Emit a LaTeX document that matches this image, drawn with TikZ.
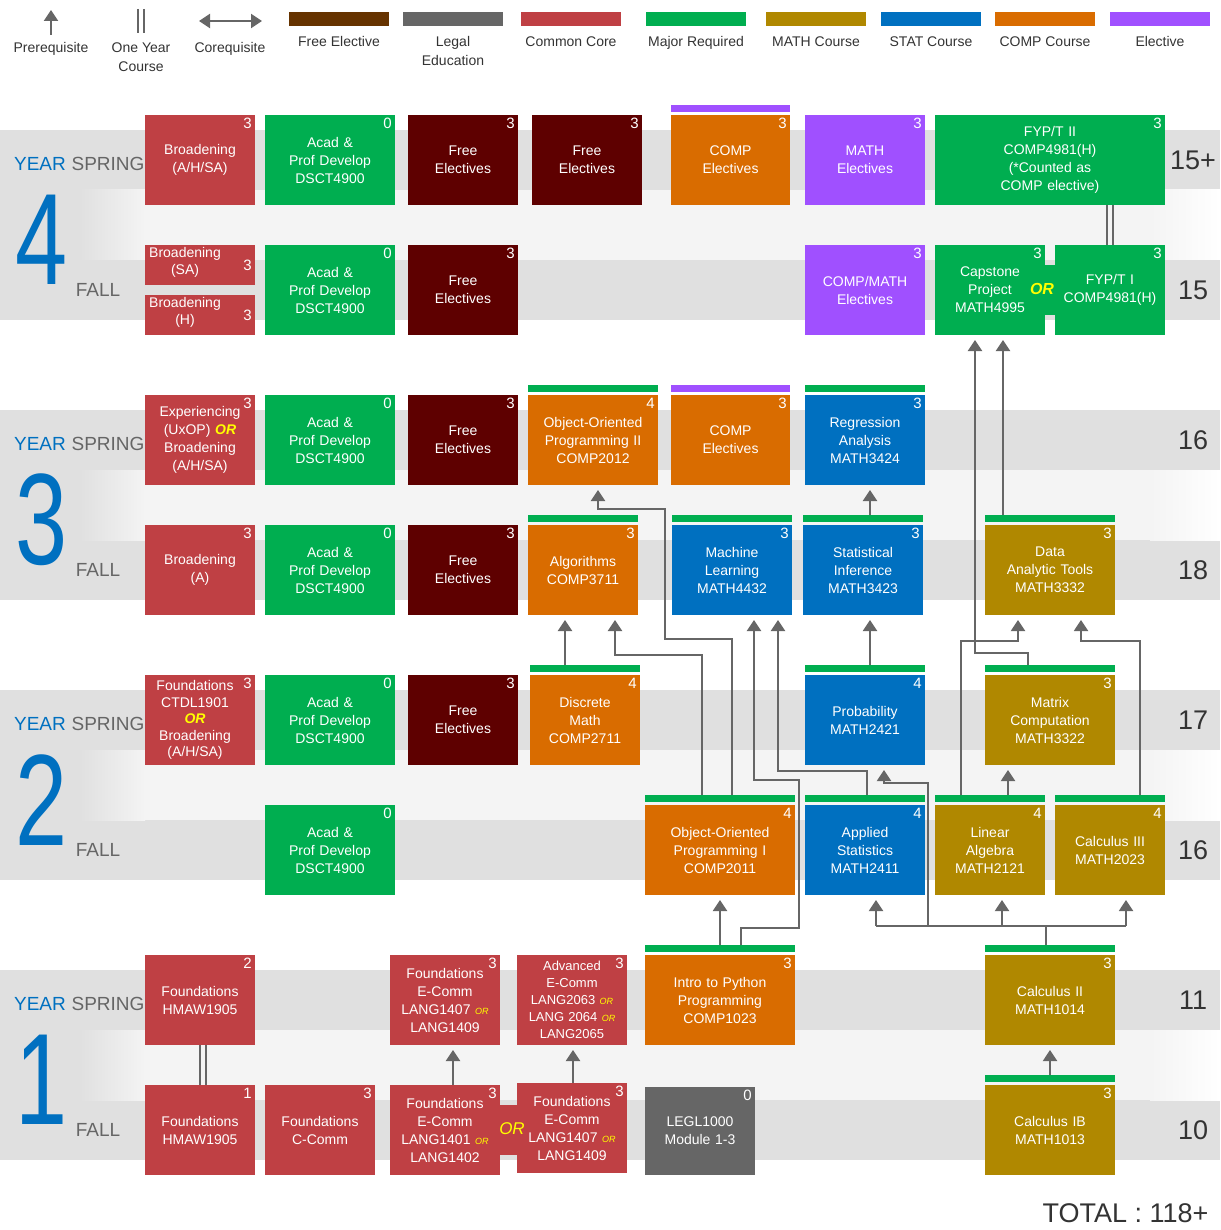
\documentclass[tikz,border=0pt]{standalone}
\usepackage{fontspec}
\setmainfont{Liberation Sans}
\usetikzlibrary{arrows.meta}
\definecolor{cc}{HTML}{BF4044}
\definecolor{mr}{HTML}{00AE50}
\definecolor{fe}{HTML}{5E0000}
\definecolor{fel}{HTML}{663300}
\definecolor{leg}{HTML}{666666}
\definecolor{ma}{HTML}{B08800}
\definecolor{st}{HTML}{0070C0}
\definecolor{co}{HTML}{D96C00}
\definecolor{el}{HTML}{A050FF}
\definecolor{dk}{HTML}{E0E0E0}
\definecolor{lt}{HTML}{F4F4F4}
\definecolor{ln}{HTML}{666666}
\definecolor{txt}{HTML}{333333}
\definecolor{yel}{HTML}{FFFF00}
\newcommand\orr{\textbf{\textit{\textcolor{yel}{OR}}}}
\newcommand\sor{{\fontsize{9}{9}\selectfont\textit{\textcolor{yel}{OR}}}}
\newcommand\cb[8]{%
 \node[cbox,fill=#6,minimum width=#4pt,minimum height=#5pt,anchor=north west] (#1) at (#2,#3) {};
 \node[ctext,text width=#4pt] (#1t) at (#1.center) {#8};
 \node[cred] (#1c) at (#1.north east) {#7};}
\newcommand\tbar[4]{\fill[#4] (#1,#3-10) rectangle (#2,#3-3);}
\begin{document}
\begin{tikzpicture}[x=1pt,y=-1pt,
 cbox/.style={inner sep=0pt,outer sep=0pt},
 ctext/.style={align=center,text=white,font=\fontsize{14}{18}\selectfont,inner sep=0pt},
 cred/.style={anchor=north east,text=white,font=\fontsize{15}{15}\selectfont,inner sep=3pt},
 pre/.style={draw=ln,line width=2pt,-{Triangle[width=14pt,length=11pt]},shorten >=5pt},
 pl/.style={draw=ln,line width=2pt},
 lab/.style={text=txt,font=\fontsize{14}{19}\selectfont,align=center},
 num/.style={text=txt,font=\fontsize{27}{27}\selectfont},
 yr/.style={text=st,font=\fontsize{19}{19}\selectfont},
 sem/.style={text=leg,font=\fontsize{19}{19}\selectfont},
 big/.style={text=st,font=\fontsize{130}{130}\selectfont}]
\useasboundingbox (0,0) rectangle (1220,1230);
% bands
\foreach \y in {130,410,690,970}{
 \fill[lt] (0,\y) rectangle (1220,\y+190);
 \fill[dk] (0,\y) rectangle (1220,\y+60);
 \fill[dk] (0,\y+130) rectangle (1220,\y+190);
 \fill[dk] (0,\y+60) rectangle (80,\y+130);
 \shade[left color=dk,right color=lt] (80,\y+60) rectangle (145,\y+130);
 \shade[left color=lt,right color=white] (1150,\y+60) rectangle (1220,\y+130);
}
% legend
\draw[pre,shorten >=0pt] (51,35) -- (51,10);
\node[lab] (l1) at (51,49) {Prerequisite};
\draw[pl,line width=1.5pt] (138,9) -- (138,33) (144,9) -- (144,33);
\node[lab] (l2) at (141,57) {One Year\\Course};
\draw[pl,{Triangle[width=14pt,length=11pt]}-{Triangle[width=14pt,length=11pt]}] (199,21) -- (262,21);
\node[lab] (l3) at (230,49) {Corequisite};
\foreach \x/\c/\t in {289/fel/Free Elective,403/leg/Legal\\Education,521/cc/Common Core,646/mr/Major Required,766/ma/MATH Course,881/st/STAT Course,995/co/COMP Course,1110/el/Elective}{
 \fill[\c] (\x,12) rectangle (\x+100,26);
 \node[lab,anchor=north] at (\x+50,33) {\t};
}
% year labels
\foreach \y/\n in {130/4,410/3,690/2,970/1}{
 \node[yr] at (40,\y+34) {YEAR};
 \node[sem] at (108,\y+34) {SPRING};
 \node[sem] at (98,\y+160) {FALL};
 \node[big] at (42,\y+110) {\scalebox{0.72}[1]{\n}};
}
\foreach \y/\t in {160/15+,290/15,440/16,570/18,720/17,850/16,1000/11,1130/10}{
 \node[num] at (1193,\y) {\t};}
\node[num,anchor=east] (tot) at (1212,1213) {TOTAL : 118+};
% Year 4
\cb{b4s}{145}{115}{110}{90}{cc}{3}{Broadening\\(A/H/SA)}
\cb{a4s}{265}{115}{130}{90}{mr}{0}{Acad \&\\Prof Develop\\DSCT4900}
\cb{f4sa}{408}{115}{110}{90}{fe}{3}{Free\\Electives}
\cb{f4sb}{532}{115}{110}{90}{fe}{3}{Free\\Electives}
\tbar{671}{790}{115}{el}
\cb{ce4s}{671}{115}{119}{90}{co}{3}{COMP\\Electives}
\cb{me4s}{805}{115}{120}{90}{el}{3}{MATH\\Electives}
\cb{fyp2}{935}{115}{230}{90}{mr}{3}{FYP/T II\\COMP4981(H)\\(*Counted as\\COMP elective)}
\node[cbox,fill=cc,minimum width=110pt,minimum height=40pt,anchor=north west] (bsa) at (145,245) {};
\node[ctext,anchor=north west,font=\fontsize{14}{17}\selectfont] (bsat) at (149,247) {Broadening\\(SA)};
\node[cred,anchor=east] (bsac) at (bsa.east) {3};
\node[cbox,fill=cc,minimum width=110pt,minimum height=40pt,anchor=north west] (bh) at (145,295) {};
\node[ctext,anchor=north west,font=\fontsize{14}{17}\selectfont] (bht) at (149,297) {Broadening\\(H)};
\node[cred,anchor=east] (bhc) at (bh.east) {3};
\cb{a4f}{265}{245}{130}{90}{mr}{0}{Acad \&\\Prof Develop\\DSCT4900}
\cb{f4f}{408}{245}{110}{90}{fe}{3}{Free\\Electives}
\cb{cm4f}{805}{245}{120}{90}{el}{3}{COMP/MATH\\Electives}
\fill[mr] (1043,265) rectangle (1057,315);
\cb{cap}{935}{245}{110}{90}{mr}{3}{Capstone\\Project\\MATH4995}
\cb{fyp1}{1055}{245}{110}{90}{mr}{3}{FYP/T I\\COMP4981(H)}
\node[font=\fontsize{16}{16}\selectfont] (or1) at (1042,289) {\orr};
% Year 3
\cb{exp}{145}{395}{110}{90}{cc}{3}{Experiencing\\(UxOP) \orr\\Broadening\\(A/H/SA)}
\cb{a3s}{265}{395}{130}{90}{mr}{0}{Acad \&\\Prof Develop\\DSCT4900}
\cb{f3s}{408}{395}{110}{90}{fe}{3}{Free\\Electives}
\tbar{528}{658}{395}{mr}
\cb{oop2}{528}{395}{130}{90}{co}{4}{Object-Oriented\\Programming II\\COMP2012}
\tbar{671}{790}{395}{el}
\cb{ce3s}{671}{395}{119}{90}{co}{3}{COMP\\Electives}
\tbar{805}{925}{395}{mr}
\cb{reg}{805}{395}{120}{90}{st}{3}{Regression\\Analysis\\MATH3424}
\cb{ba}{145}{525}{110}{90}{cc}{3}{Broadening\\(A)}
\cb{a3f}{265}{525}{130}{90}{mr}{0}{Acad \&\\Prof Develop\\DSCT4900}
\cb{f3f}{408}{525}{110}{90}{fe}{3}{Free\\Electives}
\tbar{528}{638}{525}{mr}
\cb{alg}{528}{525}{110}{90}{co}{3}{Algorithms\\COMP3711}
\tbar{672}{792}{525}{mr}
\cb{ml}{672}{525}{120}{90}{st}{3}{Machine\\Learning\\MATH4432}
\tbar{803}{923}{525}{mr}
\cb{si}{803}{525}{120}{90}{st}{3}{Statistical\\Inference\\MATH3423}
\tbar{985}{1115}{525}{mr}
\cb{dat}{985}{525}{130}{90}{ma}{3}{Data\\Analytic Tools\\MATH3332}
% Year 2
\node[cbox,fill=cc,minimum width=110pt,minimum height=90pt,anchor=north west] (fc) at (145,675) {};
\node[ctext,font=\fontsize{14}{16.5}\selectfont,text width=100pt] (fct) at ([xshift=-5pt]fc.center) {Foundations\\CTDL1901\\\orr\\Broadening\\(A/H/SA)};
\node[cred] (fcc) at (fc.north east) {3};
\cb{a2s}{265}{675}{130}{90}{mr}{0}{Acad \&\\Prof Develop\\DSCT4900}
\cb{f2s}{408}{675}{110}{90}{fe}{3}{Free\\Electives}
\tbar{530}{640}{675}{mr}
\cb{dm}{530}{675}{110}{90}{co}{4}{Discrete\\Math\\COMP2711}
\tbar{805}{925}{675}{mr}
\cb{prob}{805}{675}{120}{90}{st}{4}{Probability\\MATH2421}
\tbar{985}{1115}{675}{mr}
\cb{mc}{985}{675}{130}{90}{ma}{3}{Matrix\\Computation\\MATH3322}
\cb{a2f}{265}{805}{130}{90}{mr}{0}{Acad \&\\Prof Develop\\DSCT4900}
\tbar{645}{795}{805}{mr}
\cb{oop1}{645}{805}{150}{90}{co}{4}{Object-Oriented\\Programming I\\COMP2011}
\tbar{805}{925}{805}{mr}
\cb{as}{805}{805}{120}{90}{st}{4}{Applied\\Statistics\\MATH2411}
\tbar{935}{1045}{805}{mr}
\cb{la}{935}{805}{110}{90}{ma}{4}{Linear\\Algebra\\MATH2121}
\tbar{1055}{1165}{805}{mr}
\cb{c3}{1055}{805}{110}{90}{ma}{4}{Calculus III\\MATH2023}
% Year 1
\cb{hs}{145}{955}{110}{90}{cc}{2}{Foundations\\HMAW1905}
\cb{fe1}{390}{955}{110}{90}{cc}{3}{Foundations\\E-Comm\\LANG1407 \sor\\LANG1409}
\node[cbox,fill=cc,minimum width=110pt,minimum height=90pt,anchor=north west] (ae) at (517,955) {};
\node[ctext,font=\fontsize{13}{17}\selectfont,text width=110pt] (aet) at (ae.center) {Advanced\\E-Comm\\LANG2063 \sor\\LANG 2064 \sor\\LANG2065};
\node[cred] (aec) at (ae.north east) {3};
\tbar{645}{795}{955}{mr}
\cb{py}{645}{955}{150}{90}{co}{3}{Intro to Python\\Programming\\COMP1023}
\tbar{985}{1115}{955}{mr}
\cb{c2}{985}{955}{130}{90}{ma}{3}{Calculus II\\MATH1014}
\cb{hf}{145}{1085}{110}{90}{cc}{1}{Foundations\\HMAW1905}
\cb{ccm}{265}{1085}{110}{90}{cc}{3}{Foundations\\C-Comm}
\fill[cc] (498,1105) rectangle (519,1155);
\cb{fe2}{390}{1085}{110}{90}{cc}{3}{Foundations\\E-Comm\\LANG1401 \sor\\LANG1402}
\cb{fe3}{517}{1083}{110}{90}{cc}{3}{Foundations\\E-Comm\\LANG1407 \sor\\LANG1409}
\node[font=\fontsize{17}{17}\selectfont] (or2) at (512,1129) {\textit{\textcolor{yel}{OR}}};
\cb{legl}{645}{1087}{110}{88}{leg}{0}{LEGL1000\\Module 1-3}
\tbar{985}{1115}{1085}{mr}
\cb{c1b}{985}{1085}{130}{90}{ma}{3}{Calculus IB\\MATH1013}
% one-year links
\draw[pl,line width=1.5pt] (200,1045) -- (200,1085) (206,1045) -- (206,1085);
\draw[pl,line width=1.5pt] (1107,205) -- (1107,245) (1113,205) -- (1113,245);
% prerequisites
\draw[pre] ([xshift=-20pt,yshift=10pt]dm.north) coordinate (s1) -- (s1 |- alg.south);
\draw[pre] ([xshift=-18pt,yshift=10pt]oop1.north) -- (702,655) -- (615,655) -- (615,615);
\draw[pre] ([xshift=12pt,yshift=10pt]oop1.north) -- (732,639) -- (665,639) -- (665,509) -- (598,509) -- (598,485);
\draw[pre] ([xshift=21pt,yshift=10pt]py.north) -- (741,928) -- (799,928) -- (799,780) -- (754,780) -- (754,615);
\draw[pre] ([xshift=2pt,yshift=10pt]as.north) -- (867,771) -- (778,771) -- (778,615);
\draw[pre] ([yshift=10pt]py.north) coordinate (s2) -- (s2 |- oop1.south);
\draw[pl] ([xshift=-4pt,yshift=10pt]c2.north) -- (1046,926);
\draw[pl] (876,926) -- (1126,926);
\draw[pre] (876,926) -- (876,895);
\draw[pre] (1002,926) -- (1002,895);
\draw[pre] (1126,926) -- (1126,895);
\draw[pre] (928,926) -- (928,783) -- (884,783) -- (884,765);
\draw[pre] ([xshift=5pt,yshift=10pt]prob.north) -- (870,615);
\draw[pre] ([xshift=7pt,yshift=10pt]si.north) -- (870,485);
\draw[pre] ([xshift=-29pt,yshift=10pt]la.north) -- (961,641) -- (1018,641) -- (1018,615);
\draw[pre] ([xshift=18pt,yshift=10pt]la.north) -- (1008,765);
\draw[pre] ([xshift=30pt,yshift=10pt]c3.north) -- (1140,641) -- (1081,641) -- (1081,615);
\draw[pre] ([xshift=-22pt,yshift=10pt]mc.north) -- (1028,653) -- (975,653) -- (975,335);
\draw[pre] ([xshift=-47pt,yshift=10pt]dat.north) -- (1003,335);
\draw[pre] ([yshift=10pt]c1b.north) -- (1050,1045);
\draw[pre] ([xshift=8pt]fe2.north) -- (453,1045);
\draw[pre] ([xshift=1pt]fe3.north) -- (573,1045);
\end{tikzpicture}
\end{document}
